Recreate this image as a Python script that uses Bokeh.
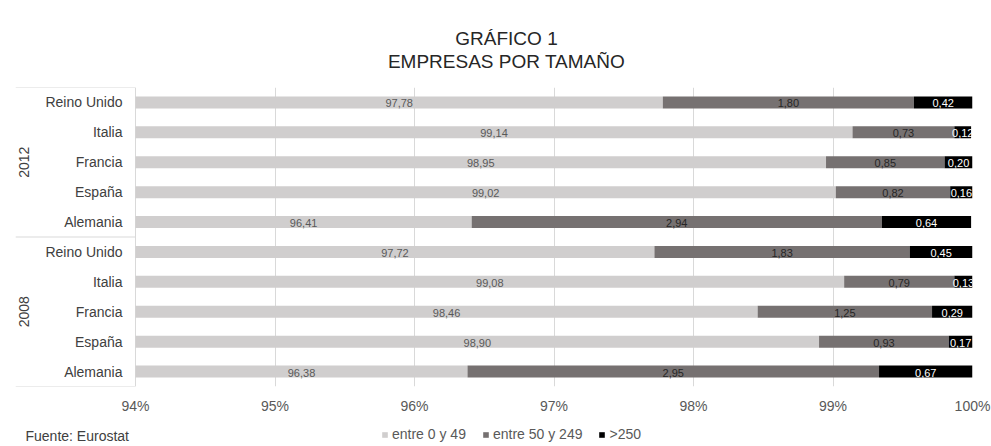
import math
from bokeh.plotting import figure
from bokeh.layouts import column
from bokeh.models import (ColumnDataSource, FactorRange, Range1d, FixedTicker,
                          PrintfTickFormatter, Label, Legend, LegendItem)
from bokeh.core.properties import value
from bokeh.embed import file_html
from bokeh.resources import INLINE

# ---------------- data ----------------
years = ["2008", "2012"]
countries = ["Alemania", "España", "Francia", "Italia", "Reino Unido"]
small_2008 = [96.38, 98.90, 98.46, 99.08, 97.72]
medium_2008 = [2.95, 0.93, 1.25, 0.79, 1.83]
large_2008 = [0.67, 0.17, 0.29, 0.13, 0.45]
small_2012 = [96.41, 99.02, 98.95, 99.14, 97.78]
medium_2012 = [2.94, 0.82, 0.85, 0.73, 1.80]
large_2012 = [0.64, 0.16, 0.20, 0.12, 0.42]
series_names = ["entre 0 y 49", "entre 50 y 249", ">250"]
x_ticks = [94, 95, 96, 97, 98, 99, 100]
title_lines = ["GRÁFICO 1", "EMPRESAS POR TAMAÑO"]
source_note = "Fuente: Eurostat"

# ---------------- style ----------------
FONT = "Liberation Sans"
C_SMALL, C_MED, C_LARGE = "#d0cece", "#767171", "#000000"
COLORS = [C_SMALL, C_MED, C_LARGE]
GRID = "#d9d9d9"
W = 991
H_HEAD, H_MAIN, H_FOOT = 87, 329, 30
FRAME_L, FRAME_R = 15, 972          # frame edges in figure pixels
LABEL_PX = 120                      # label column width
XMIN, XMAX = x_ticks[0], x_ticks[-1]
plot_px = (FRAME_R - FRAME_L) - LABEL_PX
x_start = XMIN - (XMAX - XMIN) * LABEL_PX / plot_px

small = {"2008": small_2008, "2012": small_2012}
medium = {"2008": medium_2008, "2012": medium_2012}
large = {"2008": large_2008, "2012": large_2012}

def fmt(v):
    return f"{v:.2f}".replace(".", ",")

f, s_end, m_end, l_end = [], [], [], []
c_s, c_m, c_l, t_s, t_m, t_l, cname = [], [], [], [], [], [], []
for yr in years:
    for i, c in enumerate(countries):
        s, m, l = small[yr][i], medium[yr][i], large[yr][i]
        f.append((yr, c))
        cname.append(c)
        s_end.append(s)
        m_end.append(s + m)
        l_end.append(s + m + l)
        c_s.append((XMIN + s) / 2)
        c_m.append(s + m / 2)
        c_l.append(s + m + l / 2)
        t_s.append(fmt(s))
        t_m.append(fmt(m))
        t_l.append(fmt(l))

src = ColumnDataSource(dict(f=f, s_end=s_end, m_end=m_end, l_end=l_end,
                            c_s=c_s, c_m=c_m, c_l=c_l, t_s=t_s, t_m=t_m,
                            t_l=t_l, cname=cname))

x_range = Range1d(x_start, XMAX)


def blank(height):
    fig = figure(width=W, height=height, x_range=x_range,
                 y_range=FactorRange(factors=f), output_backend="svg",
                 toolbar_location=None, x_axis_location=None,
                 y_axis_location=None, min_border_left=FRAME_L,
                 min_border_right=W - FRAME_R, min_border_top=0,
                 min_border_bottom=0)
    fig.outline_line_color = None
    fig.xgrid.visible = False
    fig.ygrid.visible = False
    fig.background_fill_color = "white"
    fig.border_fill_color = "white"
    return fig


# ---------------- header: title ----------------
h = blank(H_HEAD)
for txt, yy in zip(title_lines, (49, 26)):
    h.add_layout(Label(x=491, y=yy, x_units="screen", y_units="screen",
                       text=txt, text_align="center", text_baseline="middle",
                       text_font=FONT, text_font_size="19px",
                       text_color="#262626"))

# ---------------- main chart ----------------
p = figure(width=W, height=H_MAIN, x_range=x_range,
           y_range=FactorRange(factors=f, group_padding=0, factor_padding=0,
                               range_padding=0),
           output_backend="svg", toolbar_location=None, y_axis_location=None,
           min_border_left=FRAME_L, min_border_right=W - FRAME_R,
           min_border_top=0, min_border_bottom=H_MAIN - 300)
p.outline_line_color = None
p.background_fill_color = "white"
p.border_fill_color = "white"

p.xgrid.ticker = FixedTicker(ticks=x_ticks)
p.xgrid.grid_line_color = GRID
p.ygrid.visible = False

p.xaxis.ticker = FixedTicker(ticks=x_ticks)
p.xaxis.formatter = PrintfTickFormatter(format="%d%%")
p.xaxis.axis_line_color = None
p.xaxis.major_tick_line_color = None
p.xaxis.minor_tick_line_color = None
p.xaxis.major_tick_out = 0
p.xaxis.major_tick_in = 0
p.xaxis.major_label_standoff = 11
p.xaxis.major_label_text_font = FONT
p.xaxis.major_label_text_font_size = "14px"
p.xaxis.major_label_text_color = "#595959"

BH = 0.4
bar_cols = [("s_end", "m_end", "l_end")]
lefts = [XMIN, "s_end", "m_end"]
rights = ["s_end", "m_end", "l_end"]
for lft, rgt, col in zip(lefts, rights, COLORS):
    p.hbar(y="f", left=lft, right=rgt, height=BH, source=src,
           fill_color=col, line_color=None)

for xcol, tcol, col in (("c_s", "t_s", "#595959"), ("c_m", "t_m", "#262626"),
                        ("c_l", "t_l", "#ffffff")):
    p.text(x=xcol, y="f", text=tcol, source=src, text_align="center",
           text_baseline="middle", y_offset=1, text_font=value(FONT),
           text_font_size="11px", text_color=col)

# country labels
p.text(x=XMIN, y="f", text="cname", source=src, x_offset=-13,
       text_align="right", text_baseline="middle", text_font=value(FONT),
       text_font_size="14px", text_color="#404040")

# year labels
mid = countries[len(countries) // 2]
ysrc = ColumnDataSource(dict(y=[(yr, mid) for yr in years], t=years))
p.text(x=x_start, y="y", text="t", source=ysrc, x_offset=8.5,
       angle=math.pi / 2, text_align="center", text_baseline="middle",
       text_font=value(FONT), text_font_size="14px", text_color="#404040")

# group separators
n = len(countries)
bounds = [i * n for i in range(len(years) + 1)]
p.segment(x0=x_start, x1=XMIN, y0=bounds, y1=bounds, line_color=GRID,
          line_width=1)

# ---------------- footer: source note + legend ----------------
q = blank(H_FOOT)
leg_r = []
for lft, rgt, col in zip(lefts, rights, COLORS):
    r = q.hbar(y="f", left=lft, right=rgt, height=BH, source=src,
               fill_color=col, line_color=None)
    r.visible = False
    leg_r.append(r)

q.add_layout(Label(x=10, y=11, x_units="screen", y_units="screen",
                   text=source_note, text_align="left",
                   text_baseline="middle", text_font=FONT,
                   text_font_size="14px", text_color="#404040"))

legend = Legend(items=[LegendItem(label=nm, renderers=[r])
                       for nm, r in zip(series_names, leg_r)],
                orientation="horizontal", location=(366, 4),
                glyph_width=7, glyph_height=7, label_standoff=4, spacing=16,
                padding=0, margin=0, label_height=16,
                label_text_font=FONT, label_text_font_size="14px",
                label_text_color="#595959", border_line_color=None,
                background_fill_alpha=0, inactive_fill_alpha=0)
q.add_layout(legend)

layout = column(h, p, q, spacing=0)
open("out.html", "w").write(file_html(layout, INLINE))
